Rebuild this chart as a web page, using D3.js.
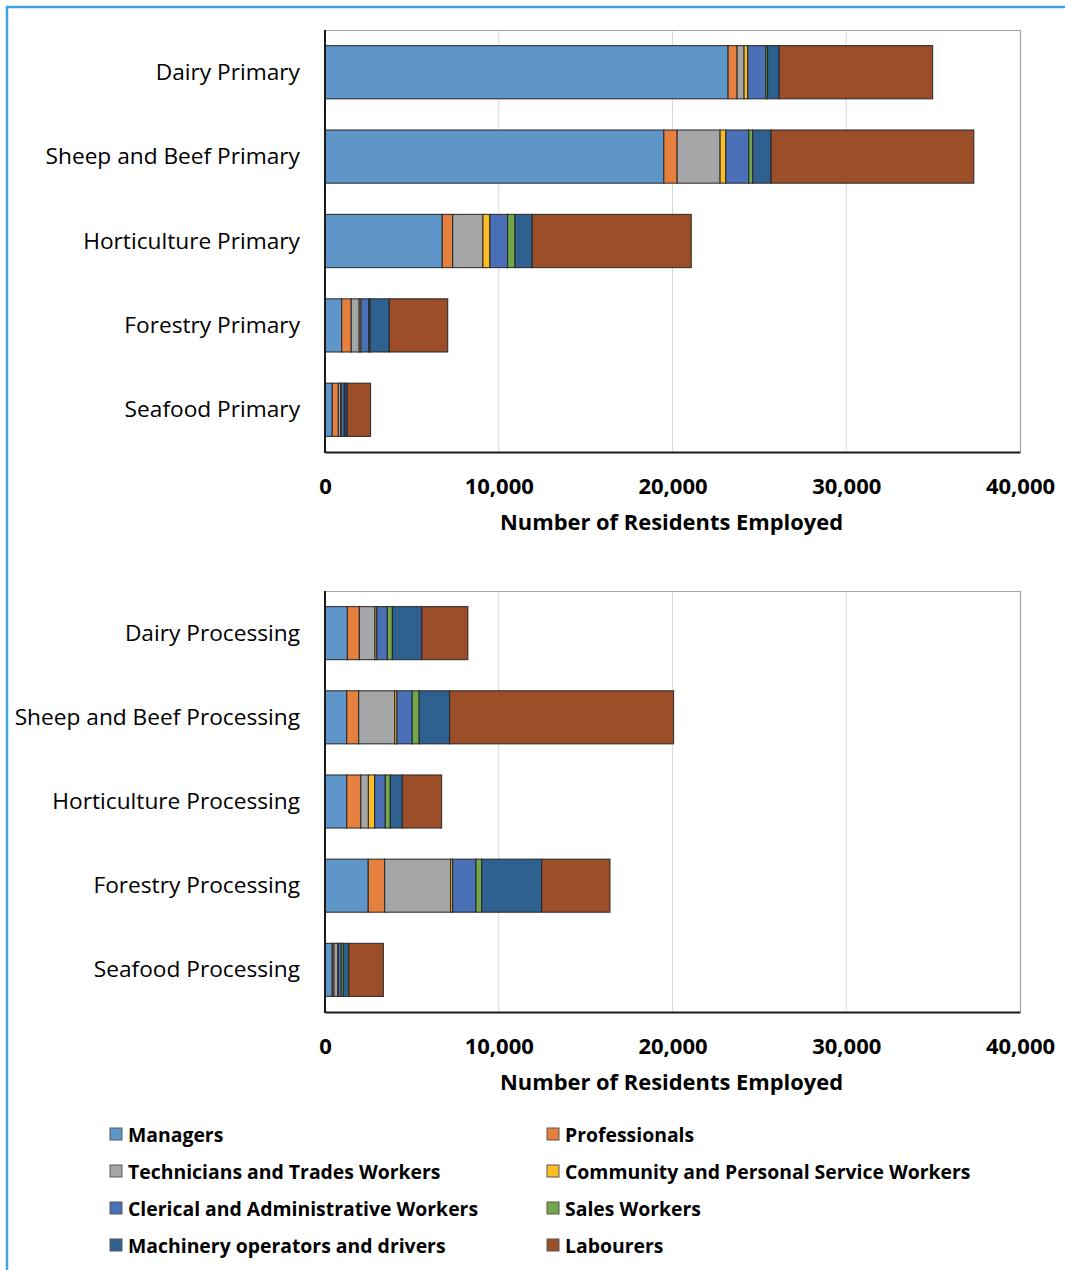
<!DOCTYPE html>
<html>
<head>
<meta charset="utf-8">
<script src="https://cdn.jsdelivr.net/npm/d3@7"></script>
<style>
  html, body { margin: 0; padding: 0; background: #fff; }
  svg { display: block; font-family: "Open Sans", "Noto Sans", sans-serif; }
</style>
</head>
<body>
<div id="chart"></div>
<script>
// Occupation groups (stack order, left to right)
const occupations = [
  "Managers", "Professionals", "Technicians and Trades Workers",
  "Community and Personal Service Workers", "Clerical and Administrative Workers",
  "Sales Workers", "Machinery operators and drivers", "Labourers"
];
const occupationColors = ["#5f96c9", "#e6803f", "#a5a6a8", "#fbbd24", "#4a70b8", "#71a84b", "#2e6190", "#9c4e28"];

// Industries for each panel
const primaryIndustries = ["Dairy Primary", "Sheep and Beef Primary", "Horticulture Primary", "Forestry Primary", "Seafood Primary"];
const processingIndustries = ["Dairy Processing", "Sheep and Beef Processing", "Horticulture Processing", "Forestry Processing", "Seafood Processing"];

// Residents employed, by occupation (same order as the industry arrays)
const managersPrimary      = [23200, 19500, 6750, 960, 420];
const professionalsPrimary = [520, 770, 600, 550, 350];
const techniciansPrimary   = [400, 2470, 1740, 460, 130];
const communityPrimary     = [210, 330, 400, 100, 40];
const clericalPrimary      = [1040, 1320, 1020, 460, 170];
const salesPrimary         = [100, 230, 420, 60, 40];
const machineryPrimary     = [670, 1050, 1000, 1110, 130];
const labourersPrimary     = [8830, 11670, 9150, 3360, 1340];

const managersProcessing      = [1290, 1250, 1250, 2490, 420];
const professionalsProcessing = [690, 690, 810, 940, 100];
const techniciansProcessing   = [900, 2070, 440, 3800, 210];
const communityProcessing     = [100, 130, 360, 120, 40];
const clericalProcessing      = [610, 880, 610, 1340, 170];
const salesProcessing         = [290, 400, 290, 330, 120];
const machineryProcessing     = [1690, 1750, 690, 3450, 310];
const labourersProcessing     = [2650, 12890, 2260, 3930, 1990];

const xTicks = [0, 10000, 20000, 30000, 40000];
const xMax = 40000;
const axisTitle = "Number of Residents Employed";

function rows(industries, cols) {
  return industries.map((name, i) => {
    const r = { industry: name };
    occupations.forEach((o, k) => { r[o] = cols[k][i]; });
    return r;
  });
}

const primaryRows = rows(primaryIndustries, [managersPrimary, professionalsPrimary, techniciansPrimary,
  communityPrimary, clericalPrimary, salesPrimary, machineryPrimary, labourersPrimary]);
const processingRows = rows(processingIndustries, [managersProcessing, professionalsProcessing, techniciansProcessing,
  communityProcessing, clericalProcessing, salesProcessing, machineryProcessing, labourersProcessing]);

const W = 1065, H = 1270;
const svg = d3.select("#chart").append("svg").attr("width", W).attr("height", H);

// Outer frame (light blue)
svg.append("path")
  .attr("d", `M7,${H + 5} L7,7 L${W + 5},7`)
  .attr("fill", "none").attr("stroke", "#3ea8dd").attr("stroke-width", 2.5);

const color = d3.scaleOrdinal().domain(occupations).range(occupationColors);
const stack = d3.stack().keys(occupations);

function panel(data, top, bottom) {
  const left = 325, right = 1020;
  const x = d3.scaleLinear().domain([0, xMax]).range([left, right]);
  const y = d3.scaleBand().domain(data.map(d => d.industry)).range([top, bottom])
    .paddingInner(0.37).paddingOuter(0.185);
  const g = svg.append("g");

  // vertical gridlines
  g.append("g").selectAll("line").data(xTicks.slice(1, -1)).join("line")
    .attr("x1", d => x(d)).attr("x2", d => x(d)).attr("y1", top).attr("y2", bottom)
    .attr("stroke", "#d9d9d9").attr("stroke-width", 1);

  // plot box: top and right light grey
  g.append("path")
    .attr("d", `M${left},${top + 0.5} L${right + 0.5},${top + 0.5} L${right + 0.5},${bottom}`)
    .attr("fill", "none").attr("stroke", "#a6a6a6").attr("stroke-width", 1.2);

  // stacked bars
  const series = stack(data);
  g.append("g").selectAll("g").data(series).join("g")
    .attr("fill", s => color(s.key))
    .selectAll("rect").data(s => s).join("rect")
    .attr("x", d => x(d[0]))
    .attr("y", d => y(d.data.industry))
    .attr("width", d => x(d[1]) - x(d[0]))
    .attr("height", y.bandwidth())
    .attr("stroke", "#262626").attr("stroke-opacity", 0.85).attr("stroke-width", 1.2);

  // category labels
  g.append("g").selectAll("text").data(data).join("text")
    .attr("x", 300).attr("y", d => y(d.industry) + y.bandwidth() / 2 - 1)
    .attr("text-anchor", "end").attr("dominant-baseline", "central")
    .attr("font-size", 22.7).attr("fill", "#000")
    .text(d => d.industry);

  // left axis line
  g.append("line").attr("x1", left).attr("x2", left).attr("y1", top).attr("y2", bottom + 1)
    .attr("stroke", "#1a1a1a").attr("stroke-width", 2);

  // bottom axis
  const ax = g.append("g").attr("transform", `translate(0,${bottom})`)
    .call(d3.axisBottom(x).tickValues(xTicks).tickSize(0).tickPadding(26).tickFormat(d3.format(",")));
  ax.select(".domain").attr("stroke", "#1a1a1a").attr("stroke-width", 2);
  ax.selectAll("text").attr("font-size", 22).attr("font-weight", "bold")
    .attr("font-family", "\"Open Sans\", sans-serif").attr("fill", "#000");

  g.append("text").attr("x", (left + right) / 2 - 1).attr("y", bottom + 78)
    .attr("text-anchor", "middle").attr("font-size", 21.9).attr("font-weight", "bold").attr("fill", "#000")
    .text(axisTitle);
}

panel(primaryRows, 30, 452);
panel(processingRows, 591, 1012);

// Legend: two columns
const legendX = [110, 547];
const legendY0 = 1134, legendDY = 37;
const lg = svg.append("g").selectAll("g").data(occupations).join("g")
  .attr("transform", (d, i) => `translate(${legendX[i % 2]},${legendY0 + Math.floor(i / 2) * legendDY})`);
lg.append("rect").attr("x", 0).attr("y", -6).attr("width", 12).attr("height", 12)
  .attr("fill", d => color(d)).attr("stroke", "#595959").attr("stroke-width", 1);
lg.append("text").attr("x", 18).attr("y", 0).attr("dominant-baseline", "central")
  .attr("font-size", 19.4).attr("font-weight", "bold").attr("fill", "#000")
  .text(d => d);
</script>
</body>
</html>
